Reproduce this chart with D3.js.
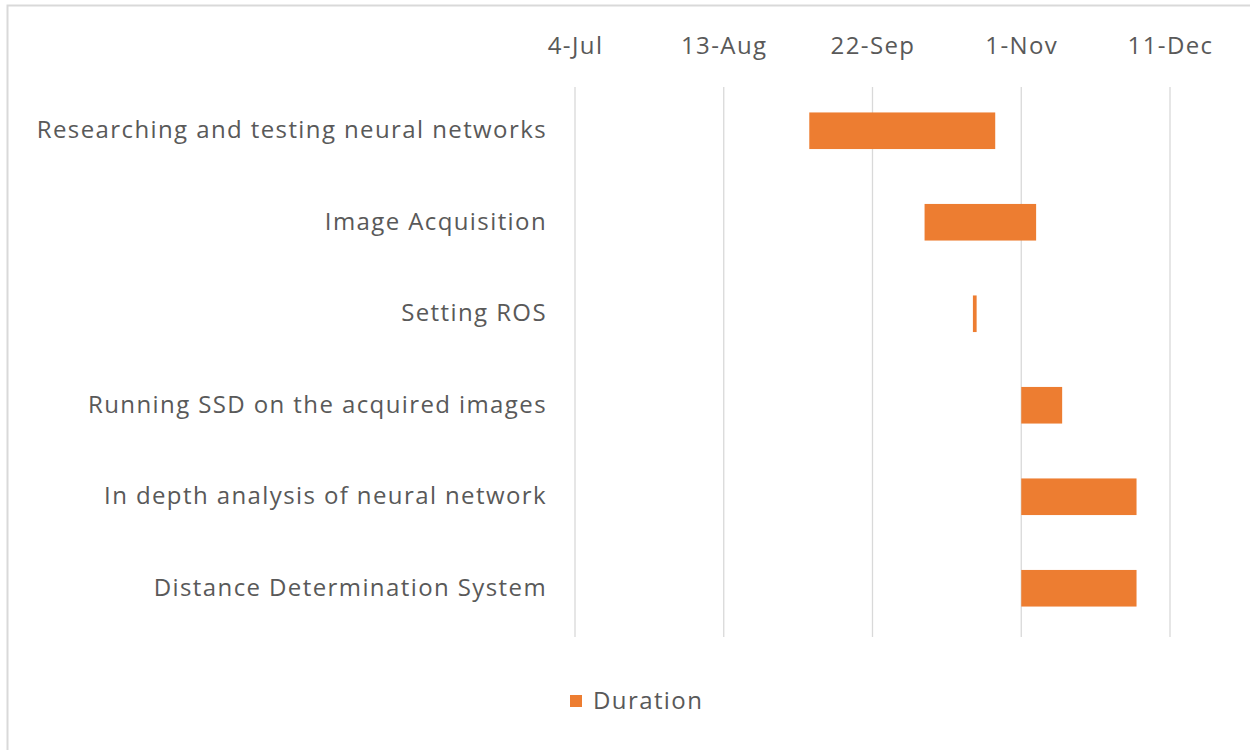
<!DOCTYPE html>
<html>
<head>
<meta charset="utf-8">
<script src="https://cdn.jsdelivr.net/npm/d3@7"></script>
<style>
  html, body { margin: 0; padding: 0; background: #fff; }
  svg { display: block; }
</style>
</head>
<body>
<svg id="chart" width="1250" height="750"></svg>
<script>
const tasks = [
  "Researching and testing neural networks",
  "Image Acquisition",
  "Setting ROS",
  "Running SSD on the acquired images",
  "In depth analysis of neural network",
  "Distance Determination System"
];
const startDates = ["2019-09-05", "2019-10-06", "2019-10-19", "2019-11-01", "2019-11-01", "2019-11-01"];
const durations = [50, 30, 1, 11, 31, 31];
const tickDates = ["2019-07-04", "2019-08-13", "2019-09-22", "2019-11-01", "2019-12-11"];
const seriesName = "Duration";

(function () {
const parse = d3.utcParse("%Y-%m-%d");
const fmt = d3.utcFormat("%-d-%b");
const DAY = 86400000;

const svg = d3.select("#chart");
const pLeft = 575, pRight = 1170, pTop = 85, pBottom = 634;
const font = "'Open Sans', 'Noto Sans', sans-serif";
const textColor = "#595959";
const fs = 24, ls = "1.4px";

// chart border
svg.append("rect").attr("x", 7.5).attr("y", 5.5).attr("width", 1260).attr("height", 760)
  .attr("fill", "#fff").attr("stroke", "#d9d9d9").attr("stroke-width", 2);

const ticks = tickDates.map(parse);
const x = d3.scaleUtc().domain([ticks[0], ticks[ticks.length - 1]]).range([pLeft, pRight]);
const y = d3.scaleBand().domain(tasks).range([pTop, pBottom]).padding(0);

// gridlines
svg.append("g").selectAll("line").data(ticks).join("line")
  .attr("x1", d => x(d)).attr("x2", d => x(d))
  .attr("y1", pTop + 2).attr("y2", pBottom + 3)
  .attr("stroke", "#d9d9d9").attr("stroke-width", 1.3);

// top axis labels
const xAxis = d3.axisTop(x).tickValues(ticks).tickFormat(fmt).tickSize(0).tickPadding(0);
const gx = svg.append("g").attr("transform", `translate(0,${pTop - 31})`).call(xAxis);
gx.select(".domain").remove();
gx.selectAll("text").attr("font-family", font).attr("font-size", fs).attr("fill", textColor)
  .style("letter-spacing", ls).attr("dy", "0");

// y axis labels
const yAxis = d3.axisLeft(y).tickSize(0).tickPadding(28);
const gy = svg.append("g").attr("transform", `translate(${pLeft},0)`).call(yAxis);
gy.select(".domain").remove();
gy.selectAll("text").attr("font-family", font).attr("font-size", fs).attr("fill", textColor)
  .style("letter-spacing", ls);

// bars
const data = tasks.map((t, i) => ({ task: t, start: parse(startDates[i]), dur: durations[i] }));
const bh = y.bandwidth() * 0.4;
svg.append("g").selectAll("rect").data(data).join("rect")
  .attr("x", d => x(d.start))
  .attr("width", d => x(new Date(+d.start + d.dur * DAY)) - x(d.start))
  .attr("y", d => y(d.task) + (y.bandwidth() - bh) / 2)
  .attr("height", bh)
  .attr("fill", "#ED7D31");

// legend
const lg = svg.append("g").attr("transform", "translate(570,701)");
lg.append("rect").attr("x", 0).attr("y", -6).attr("width", 12).attr("height", 12).attr("fill", "#ED7D31");
lg.append("text").attr("x", 23).attr("y", 0).attr("dy", "0.35em")
  .attr("font-family", font).attr("font-size", fs).attr("fill", textColor)
  .style("letter-spacing", ls).text(seriesName);
})();
</script>
</body>
</html>
